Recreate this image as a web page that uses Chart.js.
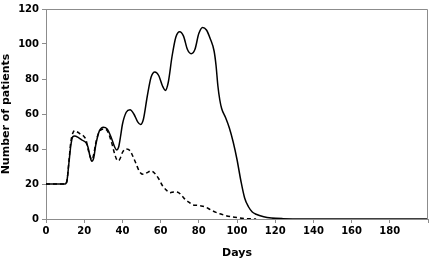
<!DOCTYPE html>
<html>
<head>
<meta charset="utf-8">
<script src="https://cdn.jsdelivr.net/npm/chart.js@4"></script>
<style>
  html, body { margin: 0; padding: 0; background: #fff; }
  #wrap { width: 430px; height: 260px; position: relative; }
</style>
</head>
<body>
<div id="wrap"><canvas id="chart"></canvas></div>
<script>
// values (days, patients)
const solidDays = [0, 10, 11, 12, 13, 14, 15, 17, 19, 21, 22, 23, 24, 25, 26, 27, 28, 30, 32, 34, 36, 37, 38, 39, 40, 42, 44, 46, 48, 49.5, 51, 53, 55, 57, 59, 61, 62.5, 64, 66, 68, 70, 72, 74, 76, 78, 80, 82, 84, 86, 88, 89, 90, 91, 92, 94, 96, 98, 100, 102, 104, 106, 108, 110, 114, 118, 124, 135, 200];
const solidValues = [20, 20, 22, 32, 42, 47, 47.5, 46.5, 45, 43.5, 41, 36, 33, 35, 42, 47, 50.5, 52.5, 51.5, 47, 41, 39.5, 41, 47, 54, 61, 62.5, 60, 55.5, 54, 57, 70, 81, 84, 82, 76, 73.5, 78, 93, 104, 107, 104.5, 97, 94.5, 97, 106, 109.5, 108, 103, 96, 88, 76, 68, 63, 58, 52, 44, 34, 22, 12, 7, 4, 2.7, 1.3, 0.6, 0.2, 0, 0];

const dashedDays = [0, 10, 11, 12, 13, 14, 15, 16, 18, 20, 21, 22, 23, 24, 25, 26, 27, 28, 30, 32, 34, 36, 37, 38, 39, 40, 42, 44, 45, 47, 49, 51, 53, 55, 57, 59, 61, 63, 65, 67, 69, 71, 73, 75, 77, 79, 81, 83, 85, 87, 89, 91, 94, 97, 100, 104, 110];
const dashedValues = [20, 20, 22, 33, 44, 49, 50.5, 50, 48.5, 47, 45, 40, 36, 34, 37, 43, 47.5, 50, 51.5, 50.5, 45, 37, 34, 33.3, 35, 38, 40, 39, 37, 32, 27, 25.5, 26.5, 27.5, 26, 23, 19, 16.5, 15, 15.5, 15.3, 13.5, 11, 9.5, 8, 7.8, 7.5, 7, 6, 4.8, 3.8, 3, 2, 1.3, 0.8, 0.3, 0];

const xTicks = [0, 20, 40, 60, 80, 100, 120, 140, 160, 180];
const yTicks = [0, 20, 40, 60, 80, 100, 120];

const toPoints = (xs, ys) => xs.map((x, i) => ({ x: x, y: ys[i] }));

// gray frame on top and right like the original
const framePlugin = {
    id: 'frame',
    afterDraw(chart) {
        const { ctx, chartArea } = chart;
        ctx.save();
        ctx.strokeStyle = '#8c8c8c';
        ctx.lineWidth = 1;
        ctx.beginPath();
        ctx.moveTo(chartArea.left, chartArea.top + 0.5);
        ctx.lineTo(chartArea.right - 0.5, chartArea.top + 0.5);
        ctx.lineTo(chartArea.right - 0.5, chartArea.bottom);
        ctx.stroke();
        ctx.restore();
    },
};

const tickFont = { family: 'DejaVu Sans', size: 10, weight: 'bold' };
const titleFont = { family: 'DejaVu Sans', size: 11, weight: 'bold' };

const ctx = document.getElementById('chart').getContext('2d');
new Chart(ctx, {
    type: 'line',
    data: {
        datasets: [
            {
                label: 'solid',
                data: toPoints(solidDays, solidValues),
                borderColor: '#000',
                borderWidth: 1.5,
                pointRadius: 0,
                cubicInterpolationMode: 'monotone',
                fill: false,
            },
            {
                label: 'dashed',
                data: toPoints(dashedDays, dashedValues),
                borderColor: '#000',
                borderWidth: 1.5,
                borderDash: [4, 3],
                pointRadius: 0,
                cubicInterpolationMode: 'monotone',
                fill: false,
            },
        ],
    },
    options: {
        responsive: true,
        maintainAspectRatio: false,
        animation: false,
        layout: { padding: { top: 4, right: 2, left: 0, bottom: 0 } },
        plugins: {
            legend: { display: false },
            tooltip: { enabled: false },
        },
        scales: {
            x: {
                type: 'linear',
                min: 0,
                max: 200,
                afterBuildTicks: (scale) => {
                    scale.ticks = xTicks.concat([200]).map((v) => ({ value: v }));
                },
                ticks: {
                    color: '#000',
                    font: tickFont,
                    padding: 2,
                    maxRotation: 0,
                    callback: (v) => (xTicks.includes(v) ? String(v) : ''),
                },
                grid: {
                    drawOnChartArea: false,
                    drawTicks: true,
                    tickLength: 4,
                    color: '#8c8c8c',
                },
                border: { color: '#8c8c8c', width: 1 },
                title: {
                    display: true,
                    text: 'Days',
                    color: '#000',
                    font: titleFont,
                    padding: { top: 3, bottom: 0 },
                },
                afterFit: (scale) => { scale.height = 41; },
            },
            y: {
                min: 0,
                max: 120,
                afterBuildTicks: (scale) => {
                    scale.ticks = yTicks.map((v) => ({ value: v }));
                },
                ticks: {
                    color: '#000',
                    font: tickFont,
                    padding: 3,
                },
                grid: {
                    drawOnChartArea: false,
                    drawTicks: true,
                    tickLength: 4,
                    color: '#8c8c8c',
                },
                border: { color: '#8c8c8c', width: 1 },
                title: {
                    display: true,
                    text: 'Number of patients',
                    color: '#000',
                    font: titleFont,
                    padding: { top: 0, bottom: 2 },
                },
                afterFit: (scale) => { scale.width = 46; },
            },
        },
    },
    plugins: [framePlugin],
});
</script>
</body>
</html>
